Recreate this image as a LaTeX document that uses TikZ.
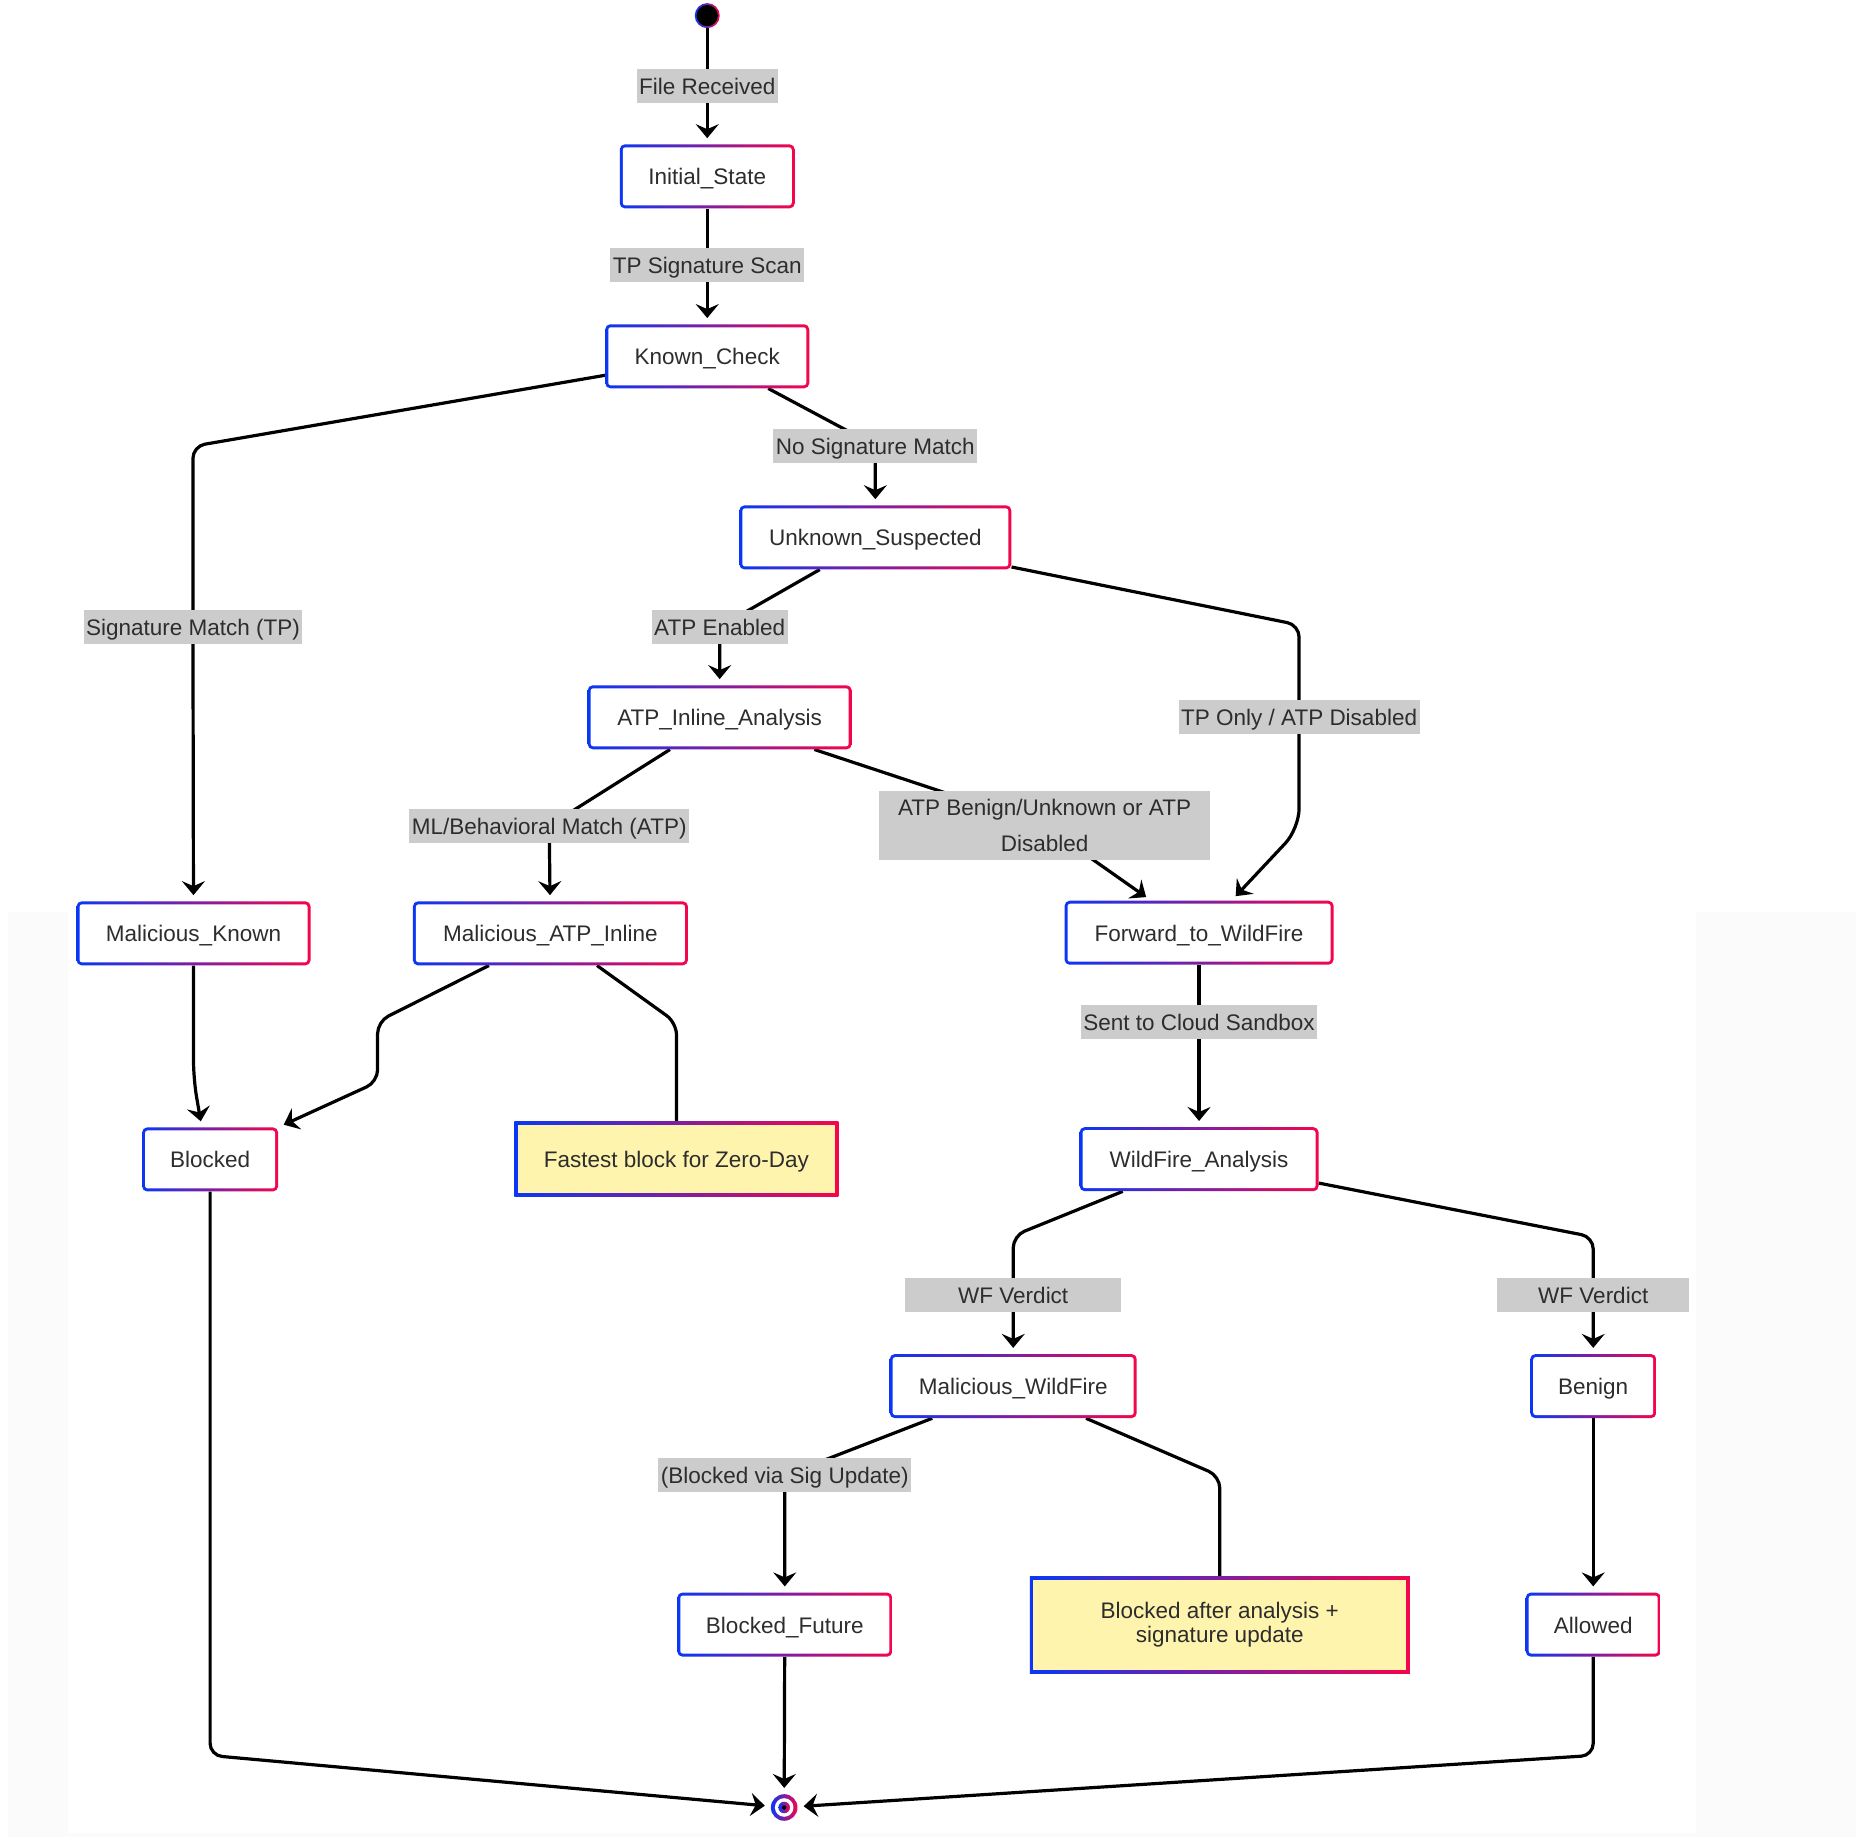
\documentclass[tikz,border=0pt]{standalone}
\usepackage{fontspec}
\setmainfont{Liberation Sans}
\usetikzlibrary{arrows.meta,calc}
\pgfdeclarelayer{bgzero}
\pgfdeclarelayer{background}
\pgfsetlayers{bgzero,background,main}
\definecolor{gB}{RGB}{10,55,245}
\definecolor{gR}{RGB}{245,5,75}
\definecolor{txt}{RGB}{45,45,45}
\definecolor{lblgray}{RGB}{204,204,204}
\definecolor{noteY}{RGB}{255,244,173}
\definecolor{bgfaint}{RGB}{251,251,251}
\begin{document}
\begin{tikzpicture}[x=1.1837pt,y=-1.1837pt,
  stbox/.style={rounded corners=5pt, minimum height=64pt, inner sep=0pt,
    left color=gB, right color=gR, text=txt,
    font=\fontsize{22.5}{27}\selectfont, text height=19pt, text depth=2pt,
    path picture={\fill[white, rounded corners=2.5pt]
      ([shift={(3pt,3pt)}]path picture bounding box.south west) rectangle
      ([shift={(-3pt,-3pt)}]path picture bounding box.north east);}},
  notebox/.style={inner sep=0pt, left color=gB, right color=gR, text=txt,
    align=center, font=\fontsize{22.5}{23.7}\selectfont,
    path picture={\fill[noteY]
      ([shift={(3.5pt,3.5pt)}]path picture bounding box.south west) rectangle
      ([shift={(-3.5pt,-3.5pt)}]path picture bounding box.north east);}},
  lbl/.style={fill=lblgray, text=txt, inner xsep=2.5pt, inner ysep=0pt,
    minimum height=34pt, text height=19pt, text depth=2pt,
    font=\fontsize{22.5}{27}\selectfont},
  lblmulti/.style={fill=lblgray, text=txt, inner sep=0pt, align=center,
    font=\fontsize{22.5}{35.5}\selectfont},
  startc/.style={circle, minimum size=25pt, inner sep=0pt, left color=gB, right color=gR,
    path picture={\fill[black] (path picture bounding box.center) circle (10.6pt);}},
  endc/.style={circle, minimum size=26.6pt, inner sep=0pt, left color=gB, right color=gR,
    path picture={\fill[white] (path picture bounding box.center) circle (9.3pt);
      \shade[left color=gB, right color=gR] (path picture bounding box.center) circle (5.8pt);
      \fill[black] (path picture bounding box.center) circle (2.2pt);}},
  conn/.style={line width=3.2pt, black, rounded corners=12pt},
  arr/.style={conn, -{Stealth[length=14pt,width=23pt,inset=5pt]}, shorten >=6pt},
]
\useasboundingbox (0,0) rectangle (1568,1552);

% nodes
\node[startc] (start) at (597.5,13.2) {};
\node[lbl] (lFR) at (597.5,72.5) {File Received};
\node[stbox, minimum width=175pt] (IS) at (597.5,149) {Initial\_State};
\node[lbl] (lTP) at (597.5,224) {TP Signature Scan};
\node[stbox, minimum width=204pt] (KC) at (597.5,301) {Known\_Check};
\node[lbl] (lNS) at (739.5,376.5) {No Signature Match};
\node[stbox, minimum width=272pt] (US) at (739.5,454) {Unknown\_Suspected};
\node[lbl] (lSM) at (163,529.5) {Signature Match (TP)};
\node[lbl] (lAE) at (608,529.5) {ATP Enabled};
\node[stbox, minimum width=264pt] (ATP) at (608,606) {ATP\_Inline\_Analysis};
\node[lbl] (lTO) at (1097.5,606) {TP Only / ATP Disabled};
\node[lbl] (lML) at (464,697.5) {ML/Behavioral Match (ATP)};
\node[lblmulti, minimum width=331pt, minimum height=69pt] (lAB) at (882.5,697.5) {ATP Benign/Unknown or ATP\\Disabled};
\node[stbox, minimum width=234pt] (MK) at (163.5,788.5) {Malicious\_Known};
\node[stbox, minimum width=275pt] (MA) at (465,788.5) {Malicious\_ATP\_Inline};
\node[stbox, minimum width=269pt] (FW) at (1013,788) {Forward\_to\_WildFire};
\node[lbl] (lSC) at (1013,863.5) {Sent to Cloud Sandbox};
\node[stbox, minimum width=136pt] (BL) at (177.5,979.5) {Blocked};
\node[notebox, minimum width=324pt, minimum height=75pt, text height=19pt, text depth=2pt] (N1) at (571.5,979.2) {Fastest block for Zero-Day};
\node[stbox, minimum width=239pt] (WA) at (1013,979.3) {WildFire\_Analysis};
\node[lbl, minimum width=216.5pt] (lWV1) at (856,1094) {WF Verdict};
\node[lbl, minimum width=192.4pt] (lWV2) at (1346,1094) {WF Verdict};
\node[stbox, minimum width=247pt] (MW) at (856,1171) {Malicious\_WildFire};
\node[stbox, minimum width=126pt] (BE) at (1346,1171) {Benign};
\node[lbl] (lBV) at (663,1246.5) {(Blocked via Sig Update)};
\node[stbox, minimum width=215pt] (BF) at (663,1372.5) {Blocked\_Future};
\node[notebox, minimum width=380pt, minimum height=97pt] (N2) at (1030.5,1372.5) {Blocked after analysis +\\signature update};
\node[stbox, minimum width=135pt] (AL) at (1346,1372.5) {Allowed};
\node[endc] (endc) at (662.5,1527) {};

% faint background
\begin{pgfonlayer}{bgzero}
\fill[bgfaint] (6.8,770.5) rectangle (1568,1552);
\fill[white] (57.4,770.5) rectangle (1433,1548.6);
\end{pgfonlayer}

% connectors
\begin{pgfonlayer}{background}
\draw[conn] (start) -- (lFR.center);
\draw[arr] (lFR.center) -- (IS);
\draw[conn] (IS) -- (lTP.center);
\draw[arr] (lTP.center) -- (KC);
\draw[arr] ([yshift=-19pt]KC.west) -- (163,377) -- (lSM.center) -- (MK);
\draw[arr] ([xshift=61pt]KC.south) -- (lNS.center) -- (US);
\draw[arr] ([xshift=-55.6pt]US.south) -- (lAE.center) -- (ATP);
\draw[arr] ([yshift=-29.6pt]US.east) -- (1097.5,528) -- (lTO.center)
  [rounded corners=20pt] -- (1097.5,700) -- ([xshift=32.5pt]FW.north);
\draw[arr] ([xshift=-49.7pt]ATP.south) -- (lML.center) -- (MA);
\draw[arr] ([xshift=94.7pt]ATP.south) -- (lAB.center) -- ([xshift=-48pt]FW.north);
\draw[arr, rounded corners=18pt] (MK) -- (163.5,912) -- ([xshift=-8.3pt]BL.north);
\draw[arr] ([xshift=-61.5pt]MA.south) -- (319,863) -- (319,914) -- (BL.north east);
\draw[conn] ([xshift=46.6pt]MA.south) -- (571.5,864) -- (N1);
\draw[conn] (FW) -- (lSC.center);
\draw[arr] (lSC.center) -- (WA);
\draw[arr] ([xshift=-76.3pt]WA.south) -- (856,1044) -- (lWV1.center) -- (MW);
\draw[arr] ([yshift=-23.9pt]WA.east) -- (1346,1045) -- (lWV2.center) -- (BE);
\draw[arr] ([xshift=-81pt]MW.south) -- (lBV.center) -- (BF);
\draw[conn] ([xshift=72.8pt]MW.south) -- (1030.5,1247) -- (N2);
\draw[arr] (BE) -- (AL);
\draw[arr] (BL) -- (177.5,1483) -- (endc);
\draw[arr] (BF) -- (endc);
\draw[arr] (AL) -- (1346,1483) -- (endc);
\end{pgfonlayer}
\end{tikzpicture}
\end{document}
